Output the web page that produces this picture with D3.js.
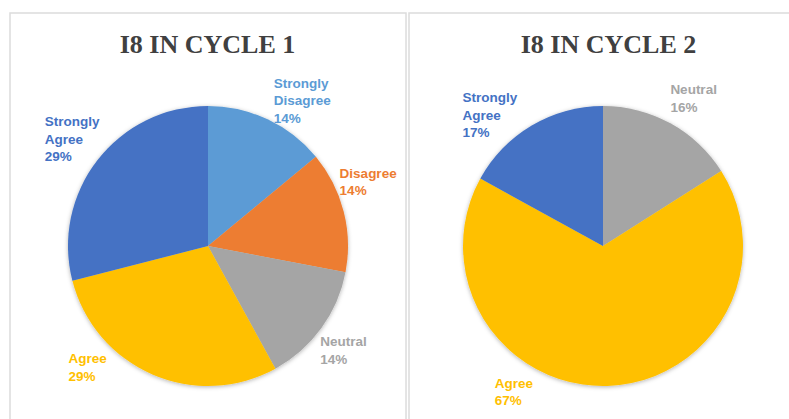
<!DOCTYPE html>
<html>
<head>
<meta charset="utf-8">
<script src="https://cdn.jsdelivr.net/npm/d3@7"></script>
<style>
  body { margin: 0; background: #fff; }
  svg { display: block; }
</style>
</head>
<body>
<svg id="chart" width="789" height="419"></svg>
<script>
// data
const categories = ['Strongly Disagree', 'Disagree', 'Neutral', 'Agree', 'Strongly Agree'];
const colors = ['#5B9BD5', '#ED7D31', '#A5A5A5', '#FFC000', '#4472C4'];
const titles = ['I8 IN CYCLE 1', 'I8 IN CYCLE 2'];
const cycle1 = [14, 14, 14, 29, 29];
const cycle2 = [0, 0, 16, 67, 17];

// label angle nudges (degrees) so labels sit like the original
const nudge1 = { 'Strongly Disagree': 8, 'Disagree': -7, 'Neutral': 2, 'Agree': 21, 'Strongly Agree': 0 };
const nudge2 = { 'Neutral': 3, 'Agree': 33, 'Strongly Agree': -10.5 };

const svg = d3.select('#chart');
const color = d3.scaleOrdinal().domain(categories).range(colors);

const defs = svg.append('defs');
defs.append('filter').attr('id', 'shadow')
    .attr('x', '-10%').attr('y', '-10%').attr('width', '120%').attr('height', '120%')
  .append('feDropShadow')
    .attr('dx', 0).attr('dy', 1).attr('stdDeviation', 2)
    .attr('flood-color', '#000').attr('flood-opacity', 0.3);

const panels = [
  { x: 10, y: 13, w: 396, title: titles[0], values: cycle1, nudge: nudge1, cx: 208 },
  { x: 409, y: 13, w: 400, title: titles[1], values: cycle2, nudge: nudge2, cx: 603 }
];

const radius = 140;
const cy = 246;
const labelR = 172;
const lineH = 17.5;

const pie = d3.pie().sort(null).value(d => d.value);
const arc = d3.arc().innerRadius(0).outerRadius(radius);

panels.forEach(p => {
  svg.append('rect')
    .attr('x', p.x).attr('y', p.y)
    .attr('width', p.w).attr('height', 430)
    .attr('fill', '#fff')
    .attr('stroke', '#dcdcdc').attr('stroke-width', 1.5);

  svg.append('text')
    .attr('x', p.x + p.w / 2 - 0.5).attr('y', 53)
    .attr('text-anchor', 'middle')
    .attr('font-family', '"Liberation Serif", "Times New Roman", serif')
    .attr('font-weight', 'bold').attr('font-size', 26)
    .attr('fill', '#404040')
    .text(p.title);

  const data = categories.map((c, i) => ({ name: c, value: p.values[i] }));
  const arcs = pie(data).filter(d => d.data.value > 0);

  const g = svg.append('g').attr('transform', `translate(${p.cx},${cy})`);
  g.append('g').attr('filter', 'url(#shadow)')
    .selectAll('path').data(arcs).join('path')
    .attr('d', arc)
    .attr('fill', d => color(d.data.name));

  arcs.forEach(d => {
    const mid = (d.startAngle + d.endAngle) / 2 + (p.nudge[d.data.name] || 0) * Math.PI / 180;
    const lx = Math.sin(mid) * labelR;
    const ly = -Math.cos(mid) * labelR;
    const lines = d.data.name.split(' ').concat([Math.round(d.data.value) + '%']);
    const t = g.append('text')
      .attr('font-family', '"Liberation Sans", Arial, Helvetica, sans-serif')
      .attr('font-weight', 'bold').attr('font-size', 13.5)
      .attr('fill', color(d.data.name));
    lines.forEach((s, i) => {
      t.append('tspan').attr('y', 0).attr('dy', i * lineH).text(s);
    });
    const bw = d3.max(t.selectAll('tspan').nodes(), n => n.getComputedTextLength());
    const top = ly - (lines.length * lineH) / 2 + 12;
    t.selectAll('tspan').attr('x', lx - bw / 2).attr('y', top);
  });
});
</script>
</body>
</html>
